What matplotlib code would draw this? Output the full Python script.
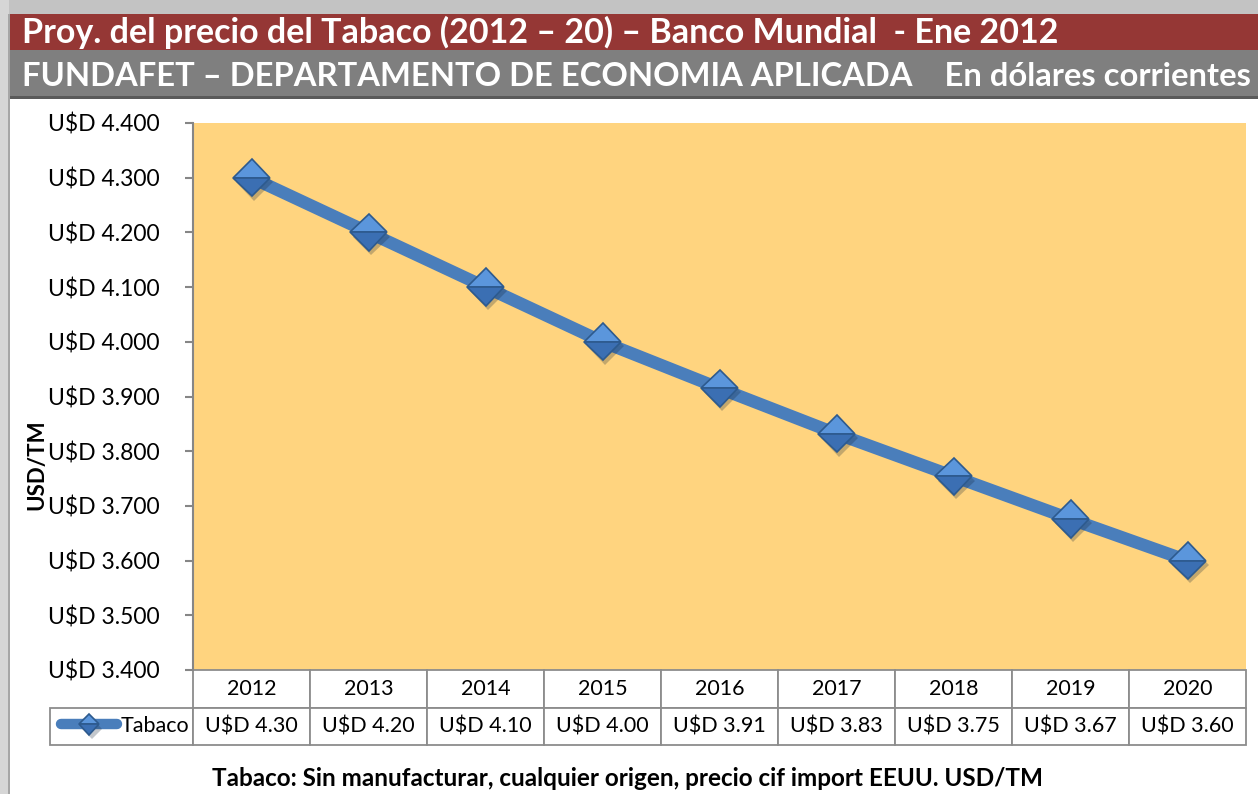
import matplotlib

matplotlib.use("Agg")
import matplotlib.pyplot as plt
import matplotlib.patheffects as pe
from matplotlib.patches import Rectangle
from matplotlib.ticker import FuncFormatter, MultipleLocator

plt.rcParams["font.family"] = ["Lato", "DejaVu Sans"]

# Proyección Banco Mundial, ene 2012
years = ["2012", "2013", "2014", "2015", "2016", "2017", "2018", "2019", "2020"]
price = [4.30, 4.20, 4.10, 4.00, 3.915, 3.832, 3.754, 3.676, 3.60]
price_labels = ["U$D 4.30", "U$D 4.20", "U$D 4.10", "U$D 4.00", "U$D 3.91",
                "U$D 3.83", "U$D 3.75", "U$D 3.67", "U$D 3.60"]
series_name = "Tabaco"

W, H = 1258, 794
fig = plt.figure(figsize=(W / 100, H / 100), dpi=100)
fig.set_facecolor("white")


def px(x0, y0, x1, y1):
    # pixel box (top-left origin) -> figure fraction rect
    return (x0 / W, 1 - y1 / H), (x1 - x0) / W, (y1 - y0) / H


# frame / header bands
for box, col in [((0, 0, W, 14), "#c3c3c3"), ((0, 0, 9, H), "#d6d6d6"),
                 ((8, 14, 10, H), "#a6a6a6"), ((10, 14, W, 50), "#953735"),
                 ((10, 50, W, 97), "#7f7f7f"), ((10, 96, W, 99), "#5a5a5a")]:
    xy, w, h = px(*box)
    fig.patches.append(Rectangle(xy, w, h, transform=fig.transFigure,
                                 facecolor=col, edgecolor="none", zorder=0))

fig.text(22 / W, 1 - 32 / H,
         "Proy. del precio del Tabaco (2012 – 20) – Banco Mundial  - Ene 2012",
         color="white", fontsize=24.5, fontweight="bold", va="center", ha="left")
fig.text(22 / W, 1 - 76 / H,
         "FUNDAFET – DEPARTAMENTO DE ECONOMIA APLICADA    En dólares corrientes",
         color="white", fontsize=23.6, fontweight="bold", va="center", ha="left")

ax = fig.add_axes([193 / W, (H - 670) / H, 1053 / W, 547 / H])
ax.set_facecolor("#ffd47f")

x = range(len(years))
ax.plot(x, price, color="#4a7ebb", linewidth=9, solid_capstyle="butt", zorder=2)
# two-tone diamonds to mimic the bevelled Excel markers
ax.plot(x, price, linestyle="none", marker="D", markersize=19, fillstyle="top",
        markerfacecolor="#5b96dc", markerfacecoloralt="#3b6fb3",
        markeredgecolor="#2d5a8e", markeredgewidth=1.2,
        path_effects=[pe.SimplePatchShadow(offset=(2, -3), alpha=0.25), pe.Normal()],
        zorder=3, label=series_name)

ax.set_xlim(-0.5, len(years) - 0.5)
ax.set_ylim(3.4, 4.4)
ax.yaxis.set_major_locator(MultipleLocator(0.1))
ax.yaxis.set_major_formatter(FuncFormatter(lambda v, _: f"U$D {v:.3f}"))
ax.set_xticks([])
ax.tick_params(axis="y", length=6, width=1.5, color="#868686", pad=18,
               labelsize=16.5, labelcolor="black")
for s in ["top", "right", "bottom"]:
    ax.spines[s].set_visible(False)
ax.spines["left"].set_color("#868686")
ax.spines["left"].set_linewidth(1.5)

ax.set_ylabel("USD/TM", fontsize=16, fontweight="bold")
ax.yaxis.set_label_coords(-0.138, 0.375)

# data table under the plot
tbl = ax.table(cellText=[price_labels], colLabels=years,
               colWidths=[1 / 9] * 9, cellLoc="center",
               bbox=[0, -75 / 547, 1, 75 / 547])
tbl.add_cell(1, -1, width=143 / 1053, height=tbl[1, 0].get_height(), text="")
tbl.auto_set_font_size(False)
tbl.set_fontsize(15.5)
for cell in tbl.get_celld().values():
    cell.set_edgecolor("#8c8c8c")
    cell.set_linewidth(1.3)

leg = ax.legend(loc="center right", bbox_to_anchor=(-4 / 1053, -0.1024),
                frameon=False, fontsize=15.5, handlelength=2.6, handletextpad=0.15,
                borderaxespad=0, borderpad=0, markerscale=0.55)
leg_line = leg.get_lines()[0]
leg_line.set_linestyle("-")
leg_line.set_linewidth(7.5)
leg_line.set_solid_capstyle("round")
leg_line.set_color("#4a7ebb")

fig.text(627 / W, 1 - 778 / H,
         "Tabaco: Sin manufacturar, cualquier origen, precio cif import EEUU. USD/TM",
         fontsize=17.5, fontweight="bold", ha="center", va="center")

fig.savefig("out.png", dpi=100, facecolor=fig.get_facecolor())
